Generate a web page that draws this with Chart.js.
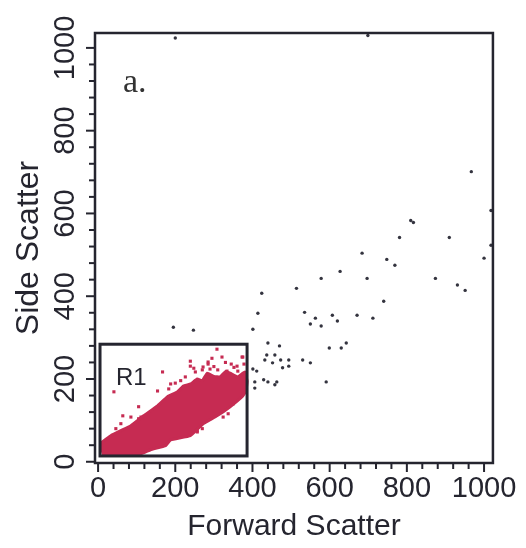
<!DOCTYPE html>
<html>
<head>
<meta charset="utf-8">
<script src="https://cdn.jsdelivr.net/npm/chart.js@4.4.1/dist/chart.umd.min.js"></script>
<style>
  body { margin: 0; background: #fff; }
  #wrap { width: 526px; height: 548px; }
</style>
</head>
<body>
<div id="wrap"><canvas id="myChart" width="526" height="548"></canvas></div>
<script>
// axis ticks
var xTicks = [0, 200, 400, 600, 800, 1000];
var yTicks = [0, 200, 400, 600, 800, 1000];

// gate R1: [x0, y0, x1, y1]
var gateR1 = [5, 14, 386, 284];

// dense main population (outline of the red cloud)
var clusterOutline = [
  [8, 46], [33, 63], [59, 75], [85, 87], [118, 111], [154, 135], [180, 157], [206, 169],
  [221, 183], [240, 188], [257, 200], [270, 196], [283, 214], [300, 206], [316, 205],
  [330, 218], [342, 214], [362, 205], [380, 217], [386, 195], [383, 171], [375, 159],
  [342, 133], [308, 111], [272, 92], [239, 63], [188, 53], [175, 39], [136, 29],
  [111, 19], [59, 17], [13, 19], [8, 46]
];

// red events scattered around the main cloud
var clusterSpeckle = [
  [41, 169], [64, 111], [59, 92], [105, 104], [46, 80], [188, 188], [183, 176],
  [308, 272], [373, 253], [239, 243], [285, 236], [290, 224], [252, 217], [334, 219],
  [226, 205], [362, 219], [272, 229], [321, 253], [239, 231], [324, 108], [337, 116],
  [270, 80], [257, 75], [350, 140], [360, 152], [285, 241], [375, 253], [360, 231],
  [167, 217], [154, 171], [105, 133], [85, 108], [111, 108], [265, 87], [257, 72],
  [300, 230], [345, 236], [310, 222], [270, 222], [352, 228], [330, 240], [378, 236],
  [295, 250], [248, 226], [200, 190], [214, 196], [370, 190], [380, 180]
];

// grey events outside the gate
var outsideEvents = [
  [967, 701], [810, 583], [817, 578], [781, 542], [910, 542], [1000, 492], [1018, 607],
  [1018, 523], [684, 504], [748, 489], [769, 475], [627, 460], [578, 443], [697, 443],
  [874, 443], [514, 419], [931, 427], [951, 414], [424, 407], [740, 388], [414, 359],
  [535, 361], [563, 347], [607, 354], [671, 354], [712, 347], [620, 340], [550, 333],
  [578, 328], [401, 320], [195, 325], [247, 318], [440, 287], [470, 280], [643, 287],
  [599, 275], [630, 275], [437, 258], [458, 258], [432, 246], [452, 239], [473, 246],
  [494, 246], [530, 246], [550, 239], [478, 227], [494, 231], [401, 224], [411, 219],
  [429, 198], [440, 193], [463, 193], [458, 186], [406, 193], [406, 178], [591, 193],
  [200, 1024], [699, 1030]
];

function toXY(arr) {
  return arr.map(function (p) { return { x: p[0], y: p[1] }; });
}

var ink = '#25252f';
var red = '#c62b52';
var sans = '"Liberation Sans", Arial, sans-serif';

var decorPlugin = {
  id: 'decor',
  afterDatasetsDraw: function (chart) {
    var c = chart.ctx;
    var xs = chart.scales.x;
    var ys = chart.scales.y;
    var a = chart.chartArea;
    c.save();

    // gate R1
    var gx0 = xs.getPixelForValue(gateR1[0]);
    var gy0 = ys.getPixelForValue(gateR1[1]);
    var gx1 = xs.getPixelForValue(gateR1[2]);
    var gy1 = ys.getPixelForValue(gateR1[3]);
    c.strokeStyle = ink;
    c.lineWidth = 3;
    c.strokeRect(gx0, gy1, gx1 - gx0, gy0 - gy1);
    c.fillStyle = ink;
    c.font = '24px ' + sans;
    c.textAlign = 'left';
    c.textBaseline = 'middle';
    c.fillText('R1', gx0 + 16, gy1 + 34);

    // panel label
    c.font = '34px "Liberation Serif", "Times New Roman", serif';
    c.fillStyle = '#333';
    c.fillText('a.', a.left + 28, a.top + 50);

    // frame
    c.strokeStyle = ink;
    c.lineWidth = 2.5;
    c.strokeRect(a.left, a.top, a.right - a.left, a.bottom - a.top);

    // tick marks
    c.lineWidth = 2;
    for (var v = 0; v <= 1000; v += 40) {
      var major = v % 200 === 0;
      var px = xs.getPixelForValue(v);
      c.beginPath();
      c.moveTo(px, a.bottom);
      c.lineTo(px, a.bottom + (major ? 9 : 6));
      c.stroke();
      var py = ys.getPixelForValue(v);
      c.beginPath();
      c.moveTo(a.left, py);
      c.lineTo(a.left - (major ? 9 : 6), py);
      c.stroke();
    }

    // y tick labels, rotated
    c.fillStyle = ink;
    c.font = '29px ' + sans;
    c.textAlign = 'center';
    c.textBaseline = 'middle';
    yTicks.forEach(function (t) {
      c.save();
      c.translate(a.left - 29, ys.getPixelForValue(t));
      c.rotate(-Math.PI / 2);
      c.fillText(String(t), 0, 0);
      c.restore();
    });
    c.restore();
  }
};

var ctx = document.getElementById('myChart').getContext('2d');

var myChart = new Chart(ctx, {
  type: 'scatter',
  data: {
    datasets: [{
      label: 'cluster',
      data: toXY(clusterOutline),
      showLine: true,
      fill: 'shape',
      backgroundColor: red,
      borderColor: red,
      borderWidth: 3,
      pointRadius: 0,
      tension: 0.1
    },
    {
      label: 'speckle',
      data: toXY(clusterSpeckle),
      pointStyle: 'rect',
      pointRadius: 2.2,
      backgroundColor: red,
      borderWidth: 0
    },
    {
      label: 'outside',
      data: toXY(outsideEvents),
      pointRadius: 1.7,
      backgroundColor: '#34343f',
      borderWidth: 0
    }]
  },
  options: {
    responsive: false,
    animation: false,
    events: [],
    layout: { padding: { top: 33, right: 31, left: 0, bottom: 0 } },
    plugins: {
      legend: { display: false },
      tooltip: { enabled: false }
    },
    scales: {
      x: {
        type: 'linear',
        min: -8,
        max: 1023,
        afterBuildTicks: function (s) { s.ticks = xTicks.map(function (v) { return { value: v }; }); },
        afterFit: function (s) { s.height = 85; },
        grid: { display: false, drawTicks: false, tickLength: 0 },
        border: { display: false },
        ticks: {
          padding: 9,
          maxRotation: 0,
          autoSkip: false,
          color: ink,
          callback: function (v) { return String(v); },
          font: { family: sans, size: 29 }
        },
        title: {
          display: true,
          text: 'Forward Scatter',
          color: ink,
          padding: { top: 0, bottom: 3 },
          font: { family: sans, size: 30 }
        }
      },
      y: {
        type: 'linear',
        min: -3,
        max: 1036,
        afterBuildTicks: function (s) { s.ticks = yTicks.map(function (v) { return { value: v }; }); },
        afterFit: function (s) { s.width = 95; },
        grid: { display: false, drawTicks: false, tickLength: 0 },
        border: { display: false },
        ticks: { display: false },
        title: {
          display: true,
          text: 'Side Scatter',
          color: ink,
          padding: { top: 10, bottom: 0 },
          font: { family: sans, size: 32 }
        }
      }
    }
  },
  plugins: [decorPlugin]
});
</script>
</body>
</html>
